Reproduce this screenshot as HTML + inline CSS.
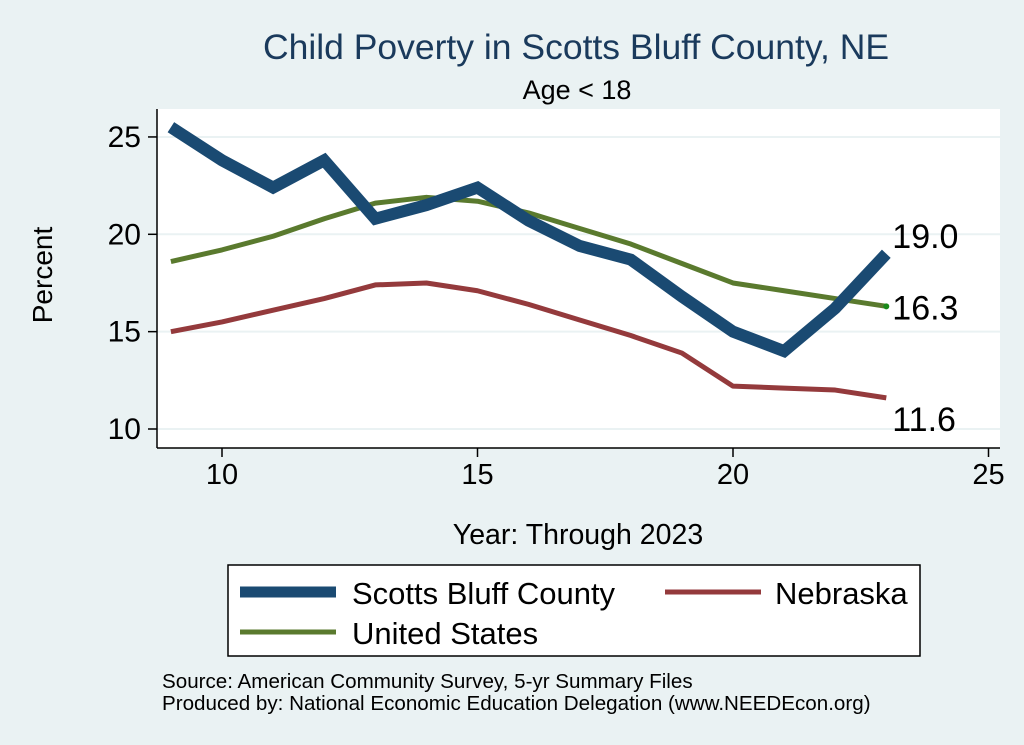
<!DOCTYPE html>
<html><head><meta charset="utf-8"><style>
body{margin:0;background:#eaf2f3;}
svg{display:block;font-family:"Liberation Sans",Arial,sans-serif;}
</style></head><body>
<svg width="1024" height="745">
<rect x="0" y="0" width="1024" height="745" fill="#eaf2f3"/>
<text x="576" y="59" font-size="35.5" fill="#1a3a5c" text-anchor="middle">Child Poverty in Scotts Bluff County, NE</text>
<text x="577" y="99" font-size="27" fill="#000" text-anchor="middle">Age &lt; 18</text>
<rect x="157" y="109" width="843" height="339" fill="#fff"/>
<g id="grid"></g>
<g id="axes"></g>
<g id="series"></g>
<text x="52" y="275" font-size="28" text-anchor="middle" transform="rotate(-90 52 275)">Percent</text>
<text x="578" y="544" font-size="28.5" text-anchor="middle">Year: Through 2023</text>
<g>
<rect x="228" y="565" width="692" height="91" fill="#fff" stroke="#000" stroke-width="1.5"/>
<line x1="240" y1="592" x2="336" y2="592" stroke="#1a4a72" stroke-width="11"/>
<text x="352" y="604" font-size="31">Scotts Bluff County</text>
<line x1="665" y1="592" x2="761" y2="592" stroke="#943a3c" stroke-width="5"/>
<text x="775" y="604" font-size="31">Nebraska</text>
<line x1="240" y1="632" x2="336" y2="632" stroke="#5a7a2e" stroke-width="5"/>
<text x="352" y="644" font-size="31">United States</text>
</g>
<text x="162" y="688" font-size="20.6">Source: American Community Survey, 5-yr Summary Files</text>
<text x="162" y="710" font-size="20.6">Produced by: National Economic Education Delegation (www.NEEDEcon.org)</text>
</svg>
<script>
const years=[9,10,11,12,13,14,15,16,17,18,19,20,21,22,23];
const scottsBluff=[25.5,23.8,22.4,23.8,20.8,21.5,22.4,20.7,19.4,18.7,16.8,15.0,14.0,16.2,19.0];
const unitedStates=[18.6,19.2,19.9,20.8,21.6,21.9,21.7,21.1,20.3,19.5,18.5,17.5,17.1,16.7,16.3];
const nebraska=[15.0,15.5,16.1,16.7,17.4,17.5,17.1,16.4,15.6,14.8,13.9,12.2,12.1,12.0,11.6];
const xTicks=[10,15,20,25];
const yTicks=[10,15,20,25];
const NS="http://www.w3.org/2000/svg";
function xs(v){return 222+(v-10)*51.1;}
function ys(v){return 429-(v-10)*19.47;}
function mk(tag,attrs,parent){const e=document.createElementNS(NS,tag);for(const k in attrs)e.setAttribute(k,attrs[k]);document.getElementById(parent).appendChild(e);return e;}
yTicks.forEach(t=>{
 const g=mk('line',{x1:157,x2:1000,y1:ys(t),y2:ys(t),stroke:'#eaf2f3','stroke-width':2},'grid');
 
 
 const tk=mk('line',{x1:148,x2:157,y1:ys(t),y2:ys(t),stroke:'#000','stroke-width':1.5},'axes');
 
 
 const l=mk('text',{x:141,y:ys(t)+10,'font-size':30,'text-anchor':'end'},'axes');
 l.textContent=t;
 
 
});
xTicks.forEach(t=>{
 const tk=mk('line',{x1:xs(t),x2:xs(t),y1:448,y2:457,stroke:'#000','stroke-width':1.5},'axes');
 
 
 const l=mk('text',{x:xs(t),y:484,'font-size':29,'text-anchor':'middle'},'axes');
 l.textContent=t;
 
 
});
const ya=mk('line',{x1:157,x2:157,y1:109,y2:448,stroke:'#000','stroke-width':1.5},'axes');


const xa=mk('line',{x1:157,x2:1000,y1:448,y2:448,stroke:'#000','stroke-width':1.5},'axes');


function pts(arr){return arr.map((v,i)=>xs(years[i])+','+ys(v)).join(' ');}
const s3=mk('polyline',{points:pts(nebraska),fill:'none',stroke:'#943a3c','stroke-width':5,'stroke-linejoin':'round'},'series');


const s2=mk('polyline',{points:pts(unitedStates),fill:'none',stroke:'#5a7a2e','stroke-width':5,'stroke-linejoin':'round'},'series');


const s1=mk('polyline',{points:pts(scottsBluff),fill:'none',stroke:'#1a4a72','stroke-width':12,'stroke-linejoin':'miter'},'series');


const n=years.length-1, lx=xs(years[n])+6;
const dot=mk('circle',{cx:xs(years[n]),cy:ys(unitedStates[n]),r:3,fill:'#1a8a1a'},'series');


[[scottsBluff,-6,'scotts-bluff-end-label'],[unitedStates,13,'us-end-label'],[nebraska,33,'nebraska-end-label']].forEach(([arr,dy,name])=>{
 const t=mk('text',{x:lx,y:ys(arr[n])+dy,'font-size':34},'series');
 t.textContent=arr[n].toFixed(1);
 
 
});
</script>
</body></html>
